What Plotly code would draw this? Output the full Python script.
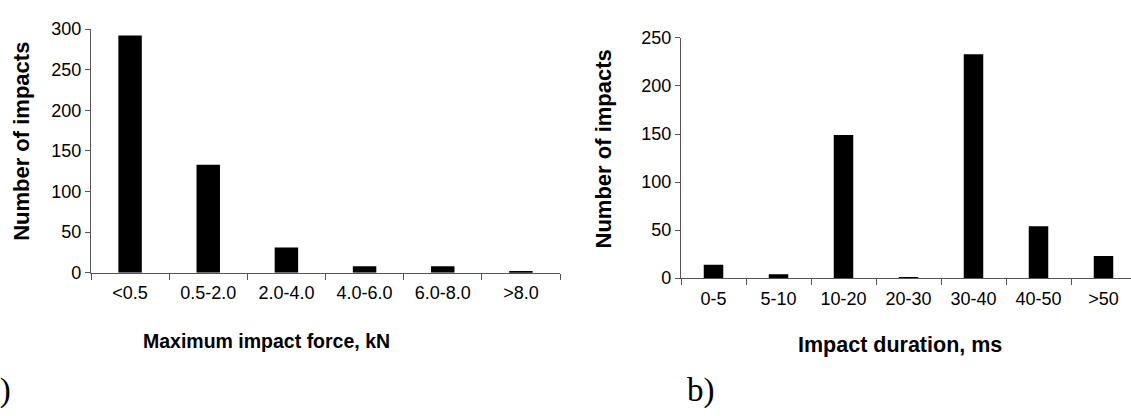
import plotly.graph_objects as go

W, H = 1131, 416

force_cats = ["<0.5", "0.5-2.0", "2.0-4.0", "4.0-6.0", "6.0-8.0", ">8.0"]
force_counts = [292, 133, 31, 8, 8, 2]

dur_cats = ["0-5", "5-10", "10-20", "20-30", "30-40", "40-50", ">50"]
dur_counts = [14, 4, 149, 1, 233, 54, 23]

FONT = "Liberation Sans, Arial, sans-serif"
AXC = "#555555"

def fx(px):
    return px / W

def fy(py):
    return 1 - py / H

fig = go.Figure()
fig.add_trace(go.Bar(x=force_cats, y=force_counts, marker=dict(color="black", line=dict(width=0)),
                     xaxis="x", yaxis="y", showlegend=False))
fig.add_trace(go.Bar(x=dur_cats, y=dur_counts, marker=dict(color="black", line=dict(width=0)),
                     xaxis="x2", yaxis="y2", showlegend=False))

common_x = dict(type="category", showline=True, linecolor=AXC, linewidth=1.3,
                ticks="outside", ticklen=6, tickcolor=AXC, tickwidth=1.3, tickson="boundaries",
                showgrid=False, zeroline=False, ticklabeloverflow="allow", ticklabelstandoff=4,
                tickfont=dict(family=FONT, size=18, color="black"))
common_y = dict(showline=True, linecolor=AXC, linewidth=1.3,
                ticks="outside", ticklen=5, tickcolor=AXC, tickwidth=1.3,
                showgrid=False, zeroline=False,
                tickfont=dict(family=FONT, size=18, color="black"))

fig.update_layout(
    width=W, height=H,
    margin=dict(l=0, r=0, t=0, b=0),
    paper_bgcolor="white", plot_bgcolor="white",
    bargap=0.7,
    xaxis=dict(common_x, domain=[fx(91), fx(560)], anchor="y", range=[-0.5, 5.5]),
    yaxis=dict(common_y, domain=[fy(276), fy(20)], anchor="x", range=[0, 300], dtick=50),
    xaxis2=dict(common_x, domain=[fx(681), 1.0], anchor="y2", range=[-0.5, -0.5 + 450 / 65]),
    yaxis2=dict(common_y, domain=[fy(281.7), fy(29.3)], anchor="x2", range=[0, 250], dtick=50),
)

ann = []
ann.append(dict(text="<b>Number of impacts</b>", x=fx(21.5), y=fy(138), textangle=-90,
                font=dict(family=FONT, size=22, color="black")))
ann.append(dict(text="<b>Number of impacts</b>", x=fx(603.5), y=fy(146), textangle=-90,
                font=dict(family=FONT, size=22, color="black")))
ann.append(dict(text="<b>Maximum impact force, kN</b>", x=fx(266.5), y=fy(347.5),
                font=dict(family=FONT, size=19.5, color="black")))
ann.append(dict(text="<b>Impact duration, ms</b>", x=fx(900), y=fy(351.5),
                font=dict(family=FONT, size=21.5, color="black")))
ann.append(dict(text="a)", x=fx(13), y=fy(400), xanchor="right",
                font=dict(family="Liberation Serif, Times New Roman, serif", size=33, color="black")))
ann.append(dict(text="b)", x=fx(685), y=fy(400), xanchor="left",
                font=dict(family="Liberation Serif, Times New Roman, serif", size=33, color="black")))
for a in ann:
    a.update(xref="paper", yref="paper", showarrow=False)
    a.setdefault("xanchor", "center")
    a.setdefault("yanchor", "middle")
fig.update_layout(annotations=ann)

fig.write_html("out.html", config={"displayModeBar": False},
               post_script="document.body.style.margin='0';document.body.style.padding='0';document.body.style.overflow='hidden';")
